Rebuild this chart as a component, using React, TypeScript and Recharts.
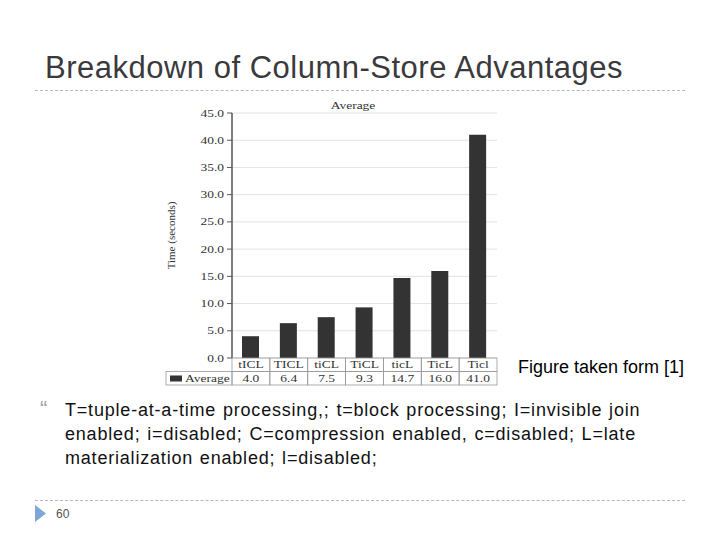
import React from "react";
import { Bar, BarChart, CartesianGrid, XAxis, YAxis } from "recharts";

const configs = ["tICL", "TICL", "tiCL", "TiCL", "ticL", "TicL", "Ticl"];
const averages = [4.0, 6.4, 7.5, 9.3, 14.7, 16.0, 41.0];
const yTicks = [0, 5, 10, 15, 20, 25, 30, 35, 40, 45];
const seriesName = "Average";

const data = configs.map((config, i) => ({ config, avg: averages[i] }));

const SERIF = "'Liberation Serif', 'DejaVu Serif', serif";
const SANS = "'Liberation Sans', Arial, sans-serif";
const INK = "#333";
const CELL_W = 265 / configs.length;
const ROW_H = 13.5;
const LEGEND_W = 66;
// the source figure is stretched sideways, so its text is too
const STRETCH = 1.35;

function StretchedText({ x, y, anchor = "middle", children }: any) {
  return (
    <text transform={`translate(${x},${y}) scale(${STRETCH},1)`} textAnchor={anchor} fontFamily={SERIF} fontSize={10} fill={INK}>
      {children}
    </text>
  );
}

/** One column of the data table under the plot: config name on top, value below. */
function TableTick(props: any) {
  const { x, y, payload } = props;
  const idx = configs.indexOf(payload.value);
  const left = x - CELL_W / 2;
  const cellStroke = "#9a9a9a";
  return (
    <g>
      <rect x={left} y={y} width={CELL_W} height={ROW_H} fill="none" stroke={cellStroke} strokeWidth={0.8} />
      <rect x={left} y={y + ROW_H} width={CELL_W} height={ROW_H} fill="none" stroke={cellStroke} strokeWidth={0.8} />
      <StretchedText x={x} y={y + ROW_H - 3.5}>{payload.value}</StretchedText>
      <StretchedText x={x} y={y + 2 * ROW_H - 3}>{averages[idx].toFixed(1)}</StretchedText>
      {idx === 0 && (
        <g>
          <rect x={left - LEGEND_W} y={y + ROW_H} width={LEGEND_W} height={ROW_H} fill="none" stroke={cellStroke} strokeWidth={0.8} />
          <rect x={left - LEGEND_W + 4} y={y + ROW_H + 4} width={12} height={6} fill={INK} />
          <StretchedText x={left - LEGEND_W + 19} y={y + 2 * ROW_H - 3} anchor="start">{seriesName}</StretchedText>
        </g>
      )}
    </g>
  );
}

function ValueTick(props: any) {
  const { x, y, payload } = props;
  return (
    <StretchedText x={x} y={y + 3.5} anchor="end">
      {Number(payload.value).toFixed(1)}
    </StretchedText>
  );
}

export default function App() {
  return (
    <div style={{ position: "absolute", left: 0, top: 0, width: 720, height: 540, background: "#fff", fontFamily: SANS, overflow: "hidden" }}>
      <div style={{ position: "absolute", left: 45, top: 50, fontSize: 31, letterSpacing: 0.5, color: "#3a3a3e", whiteSpace: "nowrap" }}>
        Breakdown of Column-Store Advantages
      </div>
      <div style={{ position: "absolute", left: 35, top: 90, width: 650, borderTop: "1px dashed #b8b8b8" }} />

      <div style={{ position: "absolute", left: 353, top: 100, fontFamily: SERIF, fontSize: 10, color: INK, transform: `translateX(-50%) scaleX(${STRETCH})` }}>
        {seriesName}
      </div>

      <div style={{ position: "absolute", left: 160, top: 95 }}>
        <BarChart width={345} height={300} data={data} margin={{ top: 18, right: 8, bottom: 9, left: 10 }}>
          <CartesianGrid vertical={false} stroke="#e2e2e2" />
          <XAxis
            dataKey="config"
            height={28}
            tickLine={false}
            tickSize={0}
            tickMargin={0}
            axisLine={false}
            interval={0}
            tick={<TableTick />}
          />
          <YAxis
            domain={[0, 45]}
            ticks={yTicks}
            width={62}
            tick={<ValueTick />}
            axisLine={{ stroke: "#555", strokeWidth: 1.5 }}
            tickLine={{ stroke: "#555" }}
            tickSize={5}
            tickMargin={3}
            label={{ value: "Time (seconds)", angle: -90, position: "insideLeft", offset: 1, style: { fontFamily: SERIF, fontSize: 11, fill: INK, textAnchor: "middle" } }}
          />
          <YAxis yAxisId="frame" orientation="right" width={0} domain={[0, 45]} tick={false} tickLine={false} axisLine={{ stroke: "#9a9a9a" }} />
          <Bar dataKey="avg" name={seriesName} fill="#333333" barSize={17} isAnimationActive={false} />
        </BarChart>
      </div>

      <div style={{ position: "absolute", left: 518, top: 357, fontSize: 18, color: "#000", whiteSpace: "nowrap" }}>
        Figure taken form [1]
      </div>

      <div style={{ position: "absolute", left: 40, top: 396, fontSize: 22, color: "#a0a0a0" }}>{"\u201C"}</div>
      <div style={{ position: "absolute", left: 65, top: 398, fontSize: 18, lineHeight: "24px", letterSpacing: 0.8, wordSpacing: 1, color: "#111", whiteSpace: "nowrap" }}>
        T=tuple-at-a-time processing,; t=block processing; I=invisible join
        <br />
        enabled; i=disabled; C=compression enabled, c=disabled; L=late
        <br />
        materialization enabled; l=disabled;
      </div>

      <div style={{ position: "absolute", left: 35, top: 500, width: 650, borderTop: "1px dashed #b8b8b8" }} />
      <svg style={{ position: "absolute", left: 35, top: 505 }} width={12} height={18}>
        <polygon points="0,0 11,8.5 0,17" fill="#7fa7d4" />
      </svg>
      <div style={{ position: "absolute", left: 56, top: 507, fontSize: 12, color: "#555" }}>60</div>
    </div>
  );
}
